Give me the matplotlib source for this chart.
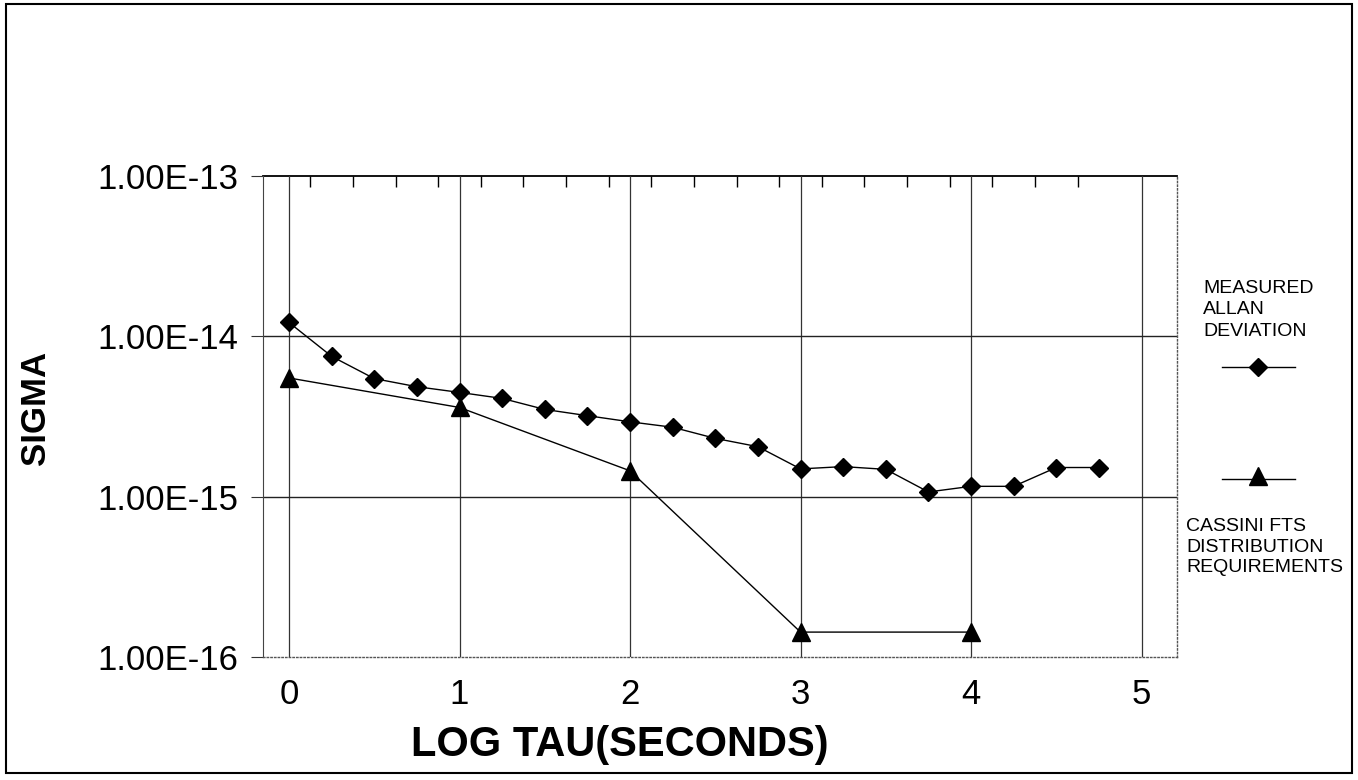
import matplotlib

matplotlib.use("Agg")

import matplotlib.pyplot as plt
from matplotlib.lines import Line2D
from matplotlib.patches import Rectangle

plt.rcParams["font.family"] = ["Liberation Sans", "DejaVu Sans"]

# measured Allan deviation, every quarter decade of tau
measured_x = [0.0, 0.25, 0.5, 0.75, 1.0, 1.25, 1.5, 1.75, 2.0, 2.25,
              2.5, 2.75, 3.0, 3.25, 3.5, 3.75, 4.0, 4.25, 4.5, 4.75]
measured_sigma = [1.22e-14, 7.5e-15, 5.45e-15, 4.85e-15, 4.47e-15, 4.1e-15,
                  3.5e-15, 3.2e-15, 2.93e-15, 2.71e-15, 2.31e-15, 2.05e-15,
                  1.49e-15, 1.54e-15, 1.48e-15, 1.07e-15, 1.16e-15, 1.16e-15,
                  1.52e-15, 1.52e-15]

# Cassini FTS distribution requirement
req_x = [0, 1, 2, 3, 4]
req_sigma = [5.5e-15, 3.6e-15, 1.45e-15, 1.43e-16, 1.43e-16]

y_ticks = [1e-16, 1e-15, 1e-14, 1e-13]
y_tick_labels = ["1.00E-16", "1.00E-15", "1.00E-14", "1.00E-13"]
x_ticks = [0, 1, 2, 3, 4, 5]
# category boundaries of the measured series (ticks along the top edge)
top_ticks = [0.125 + 0.25 * k for k in range(19)]

W, H = 1358, 780
fig = plt.figure(figsize=(W / 100, H / 100), dpi=100)
ax = fig.add_axes([263 / W, 1 - 657 / H, (1177 - 263) / W, (657 - 176) / H])

ax.set_yscale("log")
ax.set_ylim(1e-16, 1e-13)
ax.set_xlim(-0.1525, 5.208)

# grid
for x in x_ticks:
    ax.axvline(x, color="#333333", linewidth=0.9, zorder=1)
for y in (1e-15, 1e-14):
    ax.axhline(y, color="#222222", linewidth=1.0, zorder=1)

ax.plot(measured_x, measured_sigma, color="black", linewidth=1.0,
        marker="D", markersize=9, zorder=3)
ax.plot(req_x, req_sigma, color="black", linewidth=1.0,
        marker="^", markersize=13, zorder=3)

ax.set_yticks(y_ticks)
ax.set_yticklabels(y_tick_labels)
ax.yaxis.set_minor_locator(matplotlib.ticker.NullLocator())
ax.tick_params(axis="y", length=9, width=0.8, pad=9, labelsize=25, color="#333333")

ax.set_xticks(x_ticks)
ax.set_xticklabels([str(v) for v in x_ticks])
ax.tick_params(axis="x", length=0, pad=15, labelsize=25)

sec = ax.secondary_xaxis("top")
sec.set_xticks(top_ticks)
sec.set_xticklabels([])
sec.tick_params(axis="x", direction="in", length=8, width=1.0, color="black")
sec.spines["top"].set_linewidth(1.3)

ax.spines["top"].set_visible(False)
ax.spines["left"].set_color("#444444")
ax.spines["left"].set_linewidth(0.8)
for side in ("bottom", "right"):
    ax.spines[side].set_linestyle(":")
    ax.spines[side].set_color("#555555")
    ax.spines[side].set_linewidth(1.0)

ax.set_xlabel("LOG TAU(SECONDS)", fontsize=30, fontweight="bold")
ax.xaxis.set_label_coords((620 - 263) / (1177 - 263), -(745 - 657) / (657 - 176))
ax.xaxis.label.set_verticalalignment("center")
ax.set_ylabel("SIGMA", fontsize=25, fontweight="bold")
ax.yaxis.set_label_coords(-(263 - 35) / (1177 - 263), (657 - 408) / (657 - 176))
ax.yaxis.label.set_verticalalignment("center")

# legend on the right
fig.text(1203 / W, 1 - 310 / H, "MEASURED\nALLAN\nDEVIATION", fontsize=14,
         ha="left", va="center", linespacing=1.35)
fig.add_artist(Line2D([1222 / W, 1295 / W], [1 - 367 / H, 1 - 367 / H],
                      color="black", linewidth=1.0, transform=fig.transFigure))
fig.add_artist(Line2D([1258 / W], [1 - 367 / H], color="black", marker="D",
                      markersize=9, linestyle="none", transform=fig.transFigure))
fig.add_artist(Line2D([1222 / W, 1295 / W], [1 - 479 / H, 1 - 479 / H],
                      color="black", linewidth=1.0, transform=fig.transFigure))
fig.add_artist(Line2D([1258 / W], [1 - 476 / H], color="black", marker="^",
                      markersize=13, linestyle="none", transform=fig.transFigure))
fig.text(1186 / W, 1 - 547 / H, "CASSINI FTS\nDISTRIBUTION\nREQUIREMENTS",
         fontsize=14, ha="left", va="center", linespacing=1.27)

# frame around the whole figure
fig.add_artist(Rectangle((6 / W, 1 - 773 / H), (1352 - 6) / W, (773 - 4) / H,
                         transform=fig.transFigure, fill=False,
                         edgecolor="black", linewidth=1.5))

fig.savefig("out.png", dpi=100)
